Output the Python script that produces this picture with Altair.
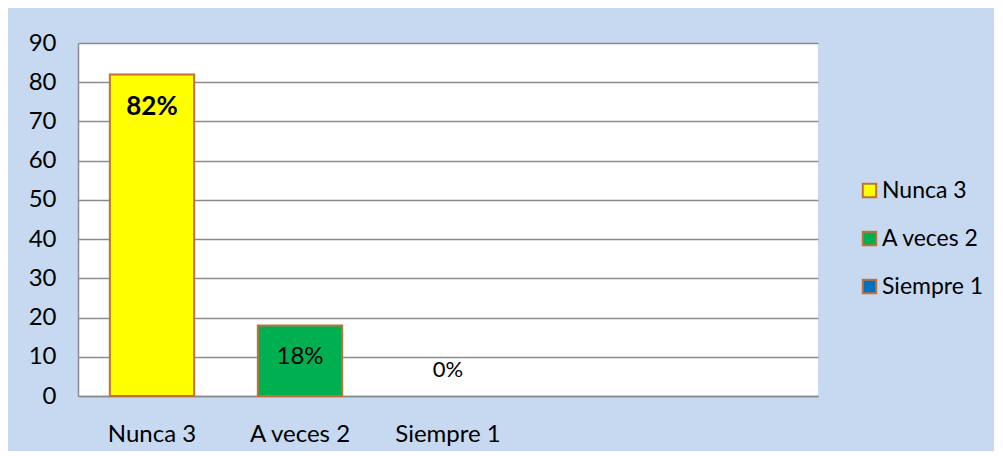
import altair as alt
import pandas as pd

categories = ["Nunca 3", "A veces  2", "Siempre 1"]
values = [82, 18, 0]
pct_labels = ["82%", "18%", "0%"]
slots = categories + ["_e1", "_e2"]
y_ticks = [0, 10, 20, 30, 40, 50, 60, 70, 80, 90]
colors = ["#ffff00", "#00b050", "#0070c0"]

df = pd.DataFrame({"cat": categories, "value": values, "label": pct_labels})

FONT = "Lato"
GRAY = "#8c8c8c"
EDGE = "#c0703a"

xenc = alt.X(
    "cat:N",
    scale=alt.Scale(domain=slots, paddingInner=0.43, paddingOuter=0.215),
    sort=slots,
    axis=alt.Axis(
        title=None, labelAngle=0, ticks=False, labelPadding=26,
        labelFont=FONT, labelFontSize=24, labelColor="#000000",
        domainColor=GRAY, domainWidth=1.5,
        labelExpr="indexof(['Nunca 3','A veces  2','Siempre 1'], datum.value) >= 0 ? datum.value : ''",
    ),
)

yenc = alt.Y(
    "value:Q", scale=alt.Scale(domain=[0, 90]),
    axis=alt.Axis(
        title=None, values=y_ticks, tickCount=20, ticks=False, labelPadding=22,
        labelOverlap=False, labelFont=FONT, labelFontSize=24, labelColor="#000000",
        grid=True, gridColor=GRAY, gridWidth=1.5,
        domainColor=GRAY, domainWidth=1.5,
    ),
)

bars = alt.Chart(df).transform_filter("datum.value > 0").mark_bar(stroke=EDGE, strokeWidth=2).encode(
    x=xenc,
    y=yenc,
    color=alt.Color(
        "cat:N",
        scale=alt.Scale(domain=categories, range=colors),
        sort=categories,
        legend=alt.Legend(
            title=None, orient="none", legendX=780, legendY=136,
            symbolType="square", symbolSize=180, symbolStrokeColor=EDGE,
            symbolStrokeWidth=2, symbolOpacity=1, labelFont=FONT, labelFontSize=23,
            labelColor="#000000", rowPadding=24, labelOffset=1,
        ),
    ),
)

txt_bold = alt.Chart(df).transform_filter("datum.cat == 'Nunca 3'").mark_text(
    font=FONT, fontSize=26, fontWeight="bold", dy=33, color="#000000"
).encode(x=xenc, y=yenc, text="label:N")

txt_norm = alt.Chart(df).transform_filter("datum.cat == 'A veces  2'").mark_text(
    font=FONT, fontSize=24, dy=32, color="#000000"
).encode(x=xenc, y=yenc, text="label:N")

txt_zero = alt.Chart(df).transform_filter("datum.value == 0").mark_text(
    font=FONT, fontSize=22, dy=-26, color="#000000"
).encode(x=xenc, y=yenc, text="label:N")

chart = alt.layer(bars, txt_bold, txt_norm, txt_zero).properties(
    width=740, height=353,
    autosize=alt.AutoSizeParams(type="none"),
    padding={"left": 70, "top": 35, "right": 176, "bottom": 55},
    background="#c6d9f0",
).configure_view(fill="#ffffff", stroke=None)

chart.save("out.html", embed_options={"renderer": "svg", "actions": False})
